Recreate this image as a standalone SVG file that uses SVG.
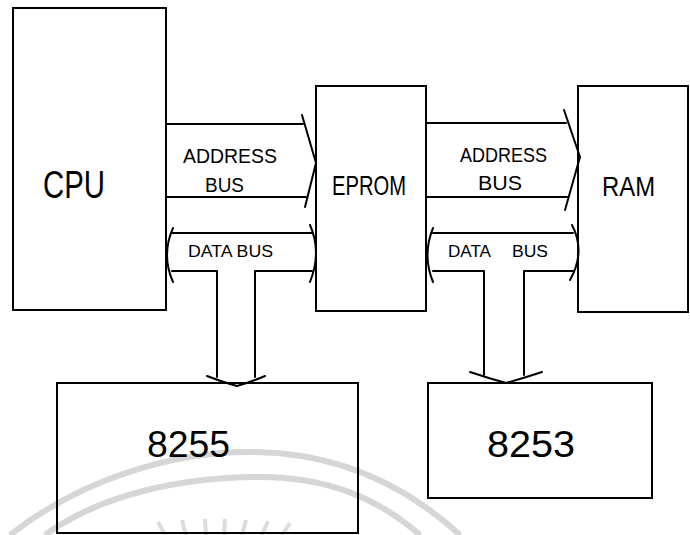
<svg xmlns="http://www.w3.org/2000/svg" width="690" height="535" viewBox="0 0 690 535">
<style>
.box{fill:none;stroke:#000;stroke-width:2}
.ln{fill:none;stroke:#000;stroke-width:2;stroke-linecap:round;stroke-linejoin:round}
.wm{fill:none;stroke:#d6d6d6;stroke-width:6}
.ray{fill:none;stroke:#dcdcdc;stroke-width:4}
text{font-family:"Liberation Sans",Arial,sans-serif;fill:#000}
.big{font-size:39px}
.mid{font-size:28px}
.lbl{font-size:20px}
.sm{font-size:16px}
.num{font-size:37px}
</style>
<rect width="690" height="535" fill="#fff"/>
<g id="watermark">
<path class="wm" d="M10,535 C80,480 170,452 250,452 C330,452 400,480 460,535"/>
<path class="wm" d="M45,535 C100,495 180,477 260,477 C330,477 380,500 420,535"/>
<path class="ray" d="M165,535 L158,522 M186,535 L182,520 M206,535 L205,519 M224,535 L225,519 M242,535 L246,520 M262,535 L268,521 M282,535 L290,523"/>
</g>
<g id="connectors">
<g id="addr-bus-1">
<path class="ln" d="M166,124 H303 M166,197 H307"/>
<path class="ln" d="M302,115 L316,163 L305,207"/>
</g>
<g id="addr-bus-2">
<path class="ln" d="M426,123 H566 M426,197 H568"/>
<path class="ln" d="M564,110 L580,157 L565,210"/>
</g>
<g id="data-bus-1">
<path class="ln" d="M172,233 H312 M172,271 H217 V377 M255,377 V271 H312"/>
<path class="ln" d="M173,228 Q161,255 173,282"/>
<path class="ln" d="M310,225 Q322,252 310,282"/>
<path class="ln" d="M207,376 Q222,382 237,386 Q251,382 265,376"/>
</g>
<g id="data-bus-2">
<path class="ln" d="M433,233 H573 M433,271 H484 V375 M524,375 V271 H573"/>
<path class="ln" d="M433,228 Q422,255 433,282"/>
<path class="ln" d="M572,225 Q586,252 570,280"/>
<path class="ln" d="M470,372 Q488,378 506,383 Q524,378 542,372"/>
</g>
<text class="lbl" x="183" y="163" textLength="94" lengthAdjust="spacingAndGlyphs">ADDRESS</text>
<text class="lbl" x="205" y="192" textLength="39" lengthAdjust="spacingAndGlyphs">BUS</text>
<text class="lbl" x="460" y="162" textLength="87" lengthAdjust="spacingAndGlyphs">ADDRESS</text>
<text class="lbl" x="478" y="190" textLength="44" lengthAdjust="spacingAndGlyphs">BUS</text>
<text class="sm" x="188" y="257" textLength="85" lengthAdjust="spacingAndGlyphs">DATA BUS</text>
<text class="sm" x="448" y="257" textLength="43" lengthAdjust="spacingAndGlyphs">DATA</text>
<text class="sm" x="512" y="257" textLength="36" lengthAdjust="spacingAndGlyphs">BUS</text>
</g>
<g id="cpu">
<rect class="box" x="13" y="8" width="153" height="302"/>
<text class="big" x="43" y="198" textLength="62" lengthAdjust="spacingAndGlyphs">CPU</text>
</g>
<g id="eprom">
<rect class="box" x="316" y="86" width="110" height="225"/>
<text class="mid" x="332" y="195" textLength="74" lengthAdjust="spacingAndGlyphs">EPROM</text>
</g>
<g id="ram">
<rect class="box" x="578" y="86" width="110" height="226"/>
<text class="mid" x="602" y="196" textLength="53" lengthAdjust="spacingAndGlyphs">RAM</text>
</g>
<g id="ic8255">
<rect class="box" x="57" y="383" width="301" height="150"/>
<text class="num" x="147" y="457" textLength="83" lengthAdjust="spacingAndGlyphs">8255</text>
</g>
<g id="ic8253">
<rect class="box" x="428" y="383" width="224" height="115"/>
<text class="num" x="487" y="457" textLength="88" lengthAdjust="spacingAndGlyphs">8253</text>
</g>
</svg>
